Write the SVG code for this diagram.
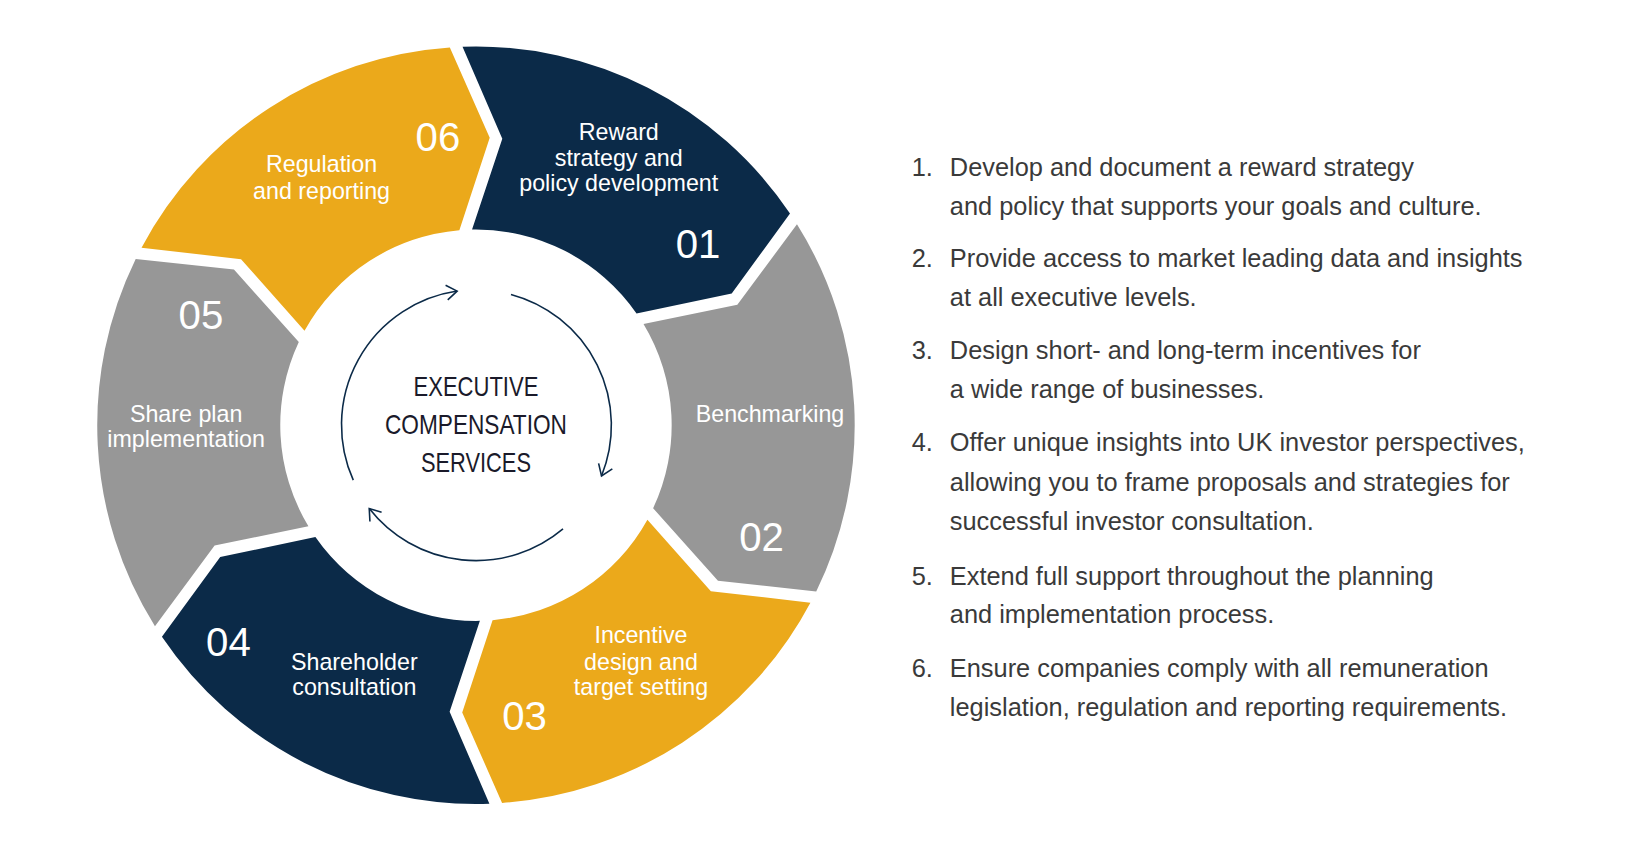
<svg xmlns="http://www.w3.org/2000/svg" width="1650" height="842" viewBox="0 0 1650 842">
<style>
.navy{fill:#0b2a48}.gold{fill:#eba91b}.gray{fill:#979797}
.lbl{font-family:"Liberation Sans",Arial,sans-serif;font-size:22px;fill:#fff;text-anchor:middle}
.num{font-family:"Liberation Sans",Arial,sans-serif;font-size:38px;fill:#fff;text-anchor:middle}
.ctr{font-family:"Liberation Sans",Arial,sans-serif;font-size:26px;fill:#1a1a2a;text-anchor:middle}
.lst{font-family:"Liberation Sans",Arial,sans-serif;font-size:24px;fill:#3a3a3a}
.arc{fill:none;stroke:#0b2a48;stroke-width:1.5}
</style>
<defs><marker id="ah" markerWidth="16" markerHeight="16" refX="12" refY="8" orient="auto" markerUnits="userSpaceOnUse"><path d="M2,1 L12,8 L2,15" fill="none" stroke="#0b2a48" stroke-width="1.5"/></marker></defs>
<rect width="1650" height="842" fill="#fff"/>
<g transform="scale(1.0577)">
<g id="seg01"><path class="navy" d="M437.3,44.2 A358,358 0 0 1 746.9,201.9 L691.8,277.4 L601.8,296.3 A185,185 0 0 0 446.3,217 L474.9,131.1 Z"/>
<text class="lbl" x="585" y="132">Reward</text><text class="lbl" x="585" y="157">strategy and</text><text class="lbl" x="585" y="181">policy development</text><text class="num" x="660" y="244">01</text></g>
<g id="seg02"><path class="gray" d="M753.5,212 A358,358 0 0 1 771.7,559.2 L678.8,549.1 L617.5,480.6 A185,185 0 0 0 608.4,306.4 L697.1,288.2 Z"/>
<text class="lbl" x="728" y="399">Benchmarking</text><text class="num" x="720" y="521">02</text></g>
<g id="seg03"><path class="gold" d="M766.2,569.8 A358,358 0 0 1 474.7,759.1 L437,673.7 L465.7,586.3 A185,185 0 0 0 612.1,491.3 L672.1,559 Z"/>
<text class="lbl" x="606" y="608">Incentive</text><text class="lbl" x="606" y="633">design and</text><text class="lbl" x="606" y="657">target setting</text><text class="num" x="496" y="690">03</text></g>
<g id="seg04"><path class="navy" d="M462.7,759.8 A358,358 0 0 1 153.1,602.1 L208.2,526.6 L298.2,507.7 A185,185 0 0 0 453.7,587 L425.1,672.9 Z"/>
<text class="lbl" x="335" y="633">Shareholder</text><text class="lbl" x="335" y="657">consultation</text><text class="num" x="216" y="620">04</text></g>
<g id="seg05"><path class="gray" d="M146.5,592 A358,358 0 0 1 128.3,244.8 L221.2,254.9 L282.5,323.4 A185,185 0 0 0 291.6,497.6 L202.9,515.8 Z"/>
<text class="lbl" x="176" y="399">Share plan</text><text class="lbl" x="176" y="423">implementation</text><text class="num" x="190" y="311">05</text></g>
<g id="seg06"><path class="gold" d="M133.8,234.2 A358,358 0 0 1 425.3,44.9 L463,130.3 L434.3,217.7 A185,185 0 0 0 287.9,312.7 L227.9,245 Z"/>
<text class="lbl" x="304" y="163">Regulation</text><text class="lbl" x="304" y="188">and reporting</text><text class="num" x="414" y="143">06</text></g>
<g id="connectors">
<path class="arc" d="M334,454 A128,128 0 0 1 432.2,275.2" marker-end="url(#ah)"/>
<path class="arc" d="M483.1,278.4 A128,128 0 0 1 568.7,450" marker-end="url(#ah)"/>
<path class="arc" d="M532.3,500 A128,128 0 0 1 349.1,480.8" marker-end="url(#ah)"/>
</g>
<g id="center"><text class="ctr" x="450" y="374" textLength="118" lengthAdjust="spacingAndGlyphs">EXECUTIVE</text>
<text class="ctr" x="450" y="410" textLength="172" lengthAdjust="spacingAndGlyphs">COMPENSATION</text>
<text class="ctr" x="450" y="446" textLength="104" lengthAdjust="spacingAndGlyphs">SERVICES</text></g>
<g id="list" class="lst">
<text x="862" y="166">1.</text><text x="898" y="166">Develop and document a reward strategy</text><text x="898" y="203">and policy that supports your goals and culture.</text>
<text x="862" y="252">2.</text><text x="898" y="252">Provide access to market leading data and insights</text><text x="898" y="289">at all executive levels.</text>
<text x="862" y="339">3.</text><text x="898" y="339">Design short- and long-term incentives for</text><text x="898" y="376">a wide range of businesses.</text>
<text x="862" y="426">4.</text><text x="898" y="426">Offer unique insights into UK investor perspectives,</text><text x="898" y="464">allowing you to frame proposals and strategies for</text><text x="898" y="501">successful investor consultation.</text>
<text x="862" y="553">5.</text><text x="898" y="553">Extend full support throughout the planning</text><text x="898" y="589">and implementation process.</text>
<text x="862" y="640">6.</text><text x="898" y="640">Ensure companies comply with all remuneration</text><text x="898" y="677">legislation, regulation and reporting requirements.</text>
</g>
</g>
</svg>
